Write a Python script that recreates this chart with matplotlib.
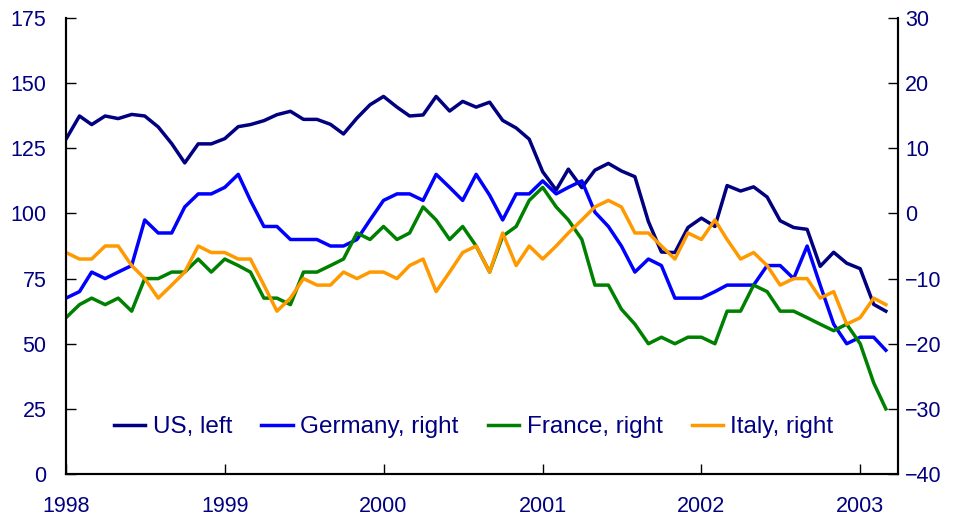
import numpy as np
import pandas as pd
import matplotlib
matplotlib.use('Agg')
import matplotlib.pyplot as plt
import matplotlib.dates as mdates

plt.rcParams['font.family'] = ['Liberation Sans', 'DejaVu Sans']

# monthly data, Jan 1998 - Mar 2003
months = pd.date_range('1998-01-01', periods=63, freq='MS')

us_left = [128.5, 137.4, 134.1, 137.4, 136.4, 138.0, 137.4, 133.2, 126.8, 119.4,
           126.7, 126.7, 128.7, 133.3, 134.1, 135.6, 137.9, 139.2, 136.1, 136.1,
           134.2, 130.5, 136.6, 141.7, 144.9, 140.8, 137.4, 137.8, 144.9, 139.3,
           143.0, 140.8, 142.7, 135.7, 132.8, 128.5, 116.0, 109.0, 117.0, 109.9,
           116.6, 119.2, 116.3, 114.1, 96.9, 85.2, 85.0, 94.6, 98.2, 95.0,
           110.7, 108.6, 110.2, 106.3, 97.2, 94.6, 93.9, 79.7, 85.1, 80.9,
           78.8, 65.1, 62.5]

germany_right = [-13, -12, -9, -10, -9, -8, -1, -3, -3, 1,
                 3, 3, 4, 6, 2, -2, -2, -4, -4, -4,
                 -5, -5, -4, -1, 2, 3, 3, 2, 6, 4,
                 2, 6, 2.8, -1, 3, 3, 5, 3, 4, 5,
                 0.2, -2, -5, -9, -7, -8, -13, -13, -13, -12,
                 -11, -11, -11, -8, -8, -10, -5, -11, -17, -20,
                 -19, -19, -21]

france_right = [-16, -14, -13, -14, -13, -15, -10, -10, -9, -9,
                -7, -9, -7, -8, -9, -13, -13, -14, -9, -9,
                -8, -7, -3, -4, -2, -4, -3, 1, -1, -4,
                -2, -5, -9, -3.5, -2, 2, 4, 1, -1, -4,
                -11, -11, -14.7, -17, -20, -19, -20, -19, -19, -20,
                -15, -15, -11, -12, -15, -15, -16, -17, -18, -17,
                -20, -26, -30]

italy_right = [-6, -7, -7, -5, -5, -8, -10, -13, -11, -9,
               -5, -6, -6, -7, -7, -11, -15, -13, -10, -11,
               -11, -9, -10, -9, -9, -10, -8, -7, -12, -9,
               -6, -5, -9, -3, -8, -5, -7, -5, -3, -1,
               1, 2, 1, -3, -3, -5, -7, -3, -4, -1,
               -4, -7, -6, -8, -11, -10, -10, -13, -12, -17,
               -16, -13, -14]

navy = '#000080'

fig = plt.figure(figsize=(9.58, 5.25), dpi=100)
ax = fig.add_axes([0.0689, 0.0971, 0.8685, 0.8686])
ax2 = ax.twinx()

l1, = ax.plot(months, us_left, color=navy, lw=2.5, label='US, left')
l2, = ax2.plot(months, germany_right, color='#0000FF', lw=2.5, label='Germany, right')
l3, = ax2.plot(months, france_right, color='#008000', lw=2.5, label='France, right')
l4, = ax2.plot(months, italy_right, color='#FF9900', lw=2.5, label='Italy, right')

ax.set_ylim(0, 175)
ax.set_yticks(np.arange(0, 176, 25))
ax2.set_ylim(-40, 30)
ax2.set_yticks(np.arange(-40, 31, 10))
ax.set_xlim(pd.Timestamp('1998-01-01'), pd.Timestamp('2003-03-29'))
ax.xaxis.set_major_locator(mdates.YearLocator())
ax.xaxis.set_major_formatter(mdates.DateFormatter('%Y'))

for a in (ax, ax2):
    a.spines['top'].set_visible(False)
    for s in ('left', 'right', 'bottom'):
        a.spines[s].set_linewidth(1.5)
        a.spines[s].set_color('black')

ax.tick_params(axis='y', direction='in', length=7, width=1, pad=14, labelsize=15.5, labelcolor=navy)
ax.tick_params(axis='x', direction='in', length=7, width=1, pad=16, labelsize=15.5, labelcolor=navy)
ax2.tick_params(axis='y', direction='in', length=7, width=1, pad=5, labelsize=15.5, labelcolor=navy)

leg = ax.legend(handles=[l1, l2, l3, l4], loc='center', bbox_to_anchor=(0.49, 0.103),
                ncol=4, frameon=False, fontsize=17.5, handlelength=1.3,
                columnspacing=1.2, handletextpad=0.3)
for t in leg.get_texts():
    t.set_color(navy)

plt.savefig('out.png', dpi=100)
